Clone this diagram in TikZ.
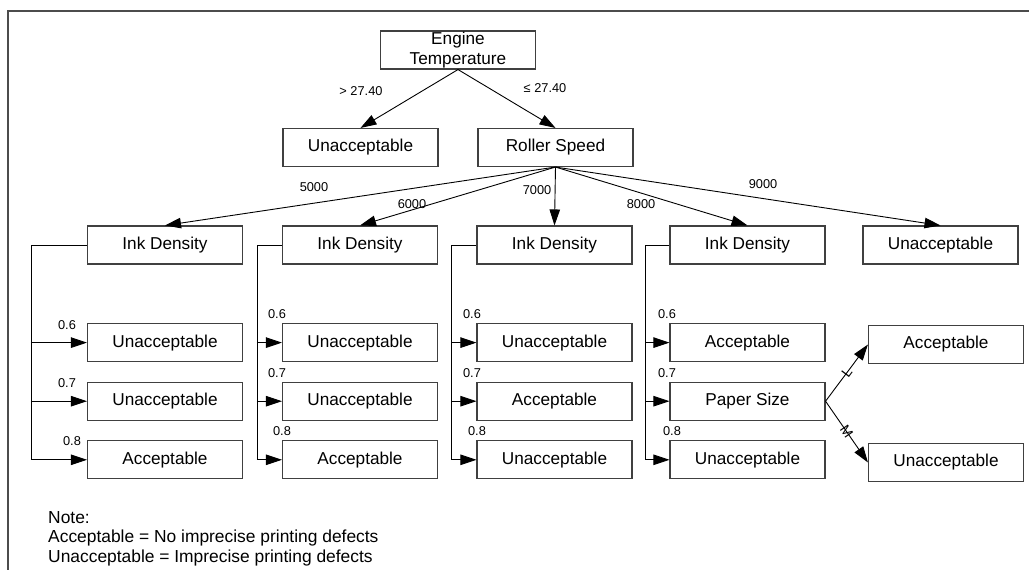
\documentclass[tikz,border=0pt]{standalone}
\usepackage{fontspec}
\setmainfont{Liberation Sans}
\usetikzlibrary{arrows.meta, positioning}

\begin{document}
\begin{tikzpicture}[
        x=1pt, y=-1pt,
        node distance=19.5pt,
        box/.style={
            rectangle,
            draw=black!75,
            line width=1.1pt,
            minimum width=155pt,
            minimum height=38pt,
            inner sep=1pt,
            align=center,
            font=\fontsize{17.2}{19.5}\selectfont
        },
        lbl/.style={inner sep=0pt, font=\fontsize{12.8}{14}\selectfont},
        arr/.style={-{Triangle[length=16pt, width=10.5pt]}, line width=0.9pt},
        trunk/.style={line width=0.9pt}
    ]
        \useasboundingbox (0,0) rectangle (1029,570);
        \draw[draw=black!70, line width=1.2pt] (1029,11) -- (8,11) -- (8,570);

        \node[box] (engine) at (458,50) {Engine\\Temperature};
        \node[box] (hot) at (360.5,147.5) {Unacceptable};
        \node[box] (roller) at (555.5,147.5) {Roller Speed};

        \node[box] (ink5) at (165,245) {Ink Density};
        \node[box] (ink6) at (360,245) {Ink Density};
        \node[box] (ink7) at (554.5,245) {Ink Density};
        \node[box] (ink8) at (747.5,245) {Ink Density};
        \node[box] (fast) at (940.5,245) {Unacceptable};

        \node[box, below=58.5pt of ink5] (ink5a) {Unacceptable};
        \node[box, below=of ink5a] (ink5b) {Unacceptable};
        \node[box, below=of ink5b] (ink5c) {Acceptable};
        \node[box, below=58.5pt of ink6] (ink6a) {Unacceptable};
        \node[box, below=of ink6a] (ink6b) {Unacceptable};
        \node[box, below=of ink6b] (ink6c) {Acceptable};
        \node[box, below=58.5pt of ink7] (ink7a) {Unacceptable};
        \node[box, below=of ink7a] (ink7b) {Acceptable};
        \node[box, below=of ink7b] (ink7c) {Unacceptable};
        \node[box, below=58.5pt of ink8] (ink8a) {Acceptable};
        \node[box, below=of ink8a] (paper) {Paper Size};
        \node[box, below=of paper] (ink8c) {Unacceptable};

        \node[box] (sizeL) at (946,344.5) {Acceptable};
        \node[box] (sizeM) at (946,462.5) {Unacceptable};

        % branch values
        \node[lbl] (gt) at (361,91) {> 27.40};
        \node[lbl] (le) at (545,88) {≤ 27.40};
        \node[lbl] (v5) at (314,187) {5000};
        \node[lbl] (v6) at (412,204) {6000};
        \node[lbl] (v7) at (537,190) {7000};
        \node[lbl] (v8) at (641,204) {8000};
        \node[lbl] (v9) at (763,184) {9000};
        \node[lbl] (d5a) at (67,325) {0.6};
        \node[lbl] (d5b) at (67,383) {0.7};
        \node[lbl] (d5c) at (72,441) {0.8};
        \node[lbl] (d6a) at (277,314) {0.6};
        \node[lbl] (d6b) at (277,373) {0.7};
        \node[lbl] (d6c) at (282,431) {0.8};
        \node[lbl] (d7a) at (472,314) {0.6};
        \node[lbl] (d7b) at (472,373) {0.7};
        \node[lbl] (d7c) at (477,431) {0.8};
        \node[lbl] (d8a) at (667,314) {0.6};
        \node[lbl] (d8b) at (667,373) {0.7};
        \node[lbl] (d8c) at (672,431) {0.8};

        \node[align=left, anchor=north west, inner sep=0pt, font=\fontsize{17.4}{19.3}\selectfont] (note) at (48,511.5)
            {Note:\\Acceptable = No imprecise printing defects\\Unacceptable = Imprecise printing defects};

        \draw[arr] (engine.south) -- (hot.north);
        \draw[arr] (engine.south) -- (roller.north);
        \draw[arr] (roller.south) -- (ink5.north);
        \draw[arr] (roller.south) -- (ink6.north);
        \draw[arr] (roller.south) -- (ink7.north);
        \draw[arr] (roller.south) -- (ink8.north);
        \draw[arr] (roller.south) -- (fast.north);

        \coordinate[left=56pt of ink5.west] (t5);
        \coordinate[left=25pt of ink6.west] (t6);
        \coordinate[left=25pt of ink7.west] (t7);
        \coordinate[left=24pt of ink8.west] (t8);

        \draw[trunk] (ink5.west) -- (t5) -- (t5 |- ink5c.west);
        \draw[arr] (t5 |- ink5a.west) -- (ink5a.west);
        \draw[arr] (t5 |- ink5b.west) -- (ink5b.west);
        \draw[arr] (t5 |- ink5c.west) -- (ink5c.west);
        \draw[trunk] (ink6.west) -- (t6) -- (t6 |- ink6c.west);
        \draw[arr] (t6 |- ink6a.west) -- (ink6a.west);
        \draw[arr] (t6 |- ink6b.west) -- (ink6b.west);
        \draw[arr] (t6 |- ink6c.west) -- (ink6c.west);
        \draw[trunk] (ink7.west) -- (t7) -- (t7 |- ink7c.west);
        \draw[arr] (t7 |- ink7a.west) -- (ink7a.west);
        \draw[arr] (t7 |- ink7b.west) -- (ink7b.west);
        \draw[arr] (t7 |- ink7c.west) -- (ink7c.west);
        \draw[trunk] (ink8.west) -- (t8) -- (t8 |- ink8c.west);
        \draw[arr] (t8 |- ink8a.west) -- (ink8a.west);
        \draw[arr] (t8 |- paper.west) -- (paper.west);
        \draw[arr] (t8 |- ink8c.west) -- (ink8c.west);

        \draw[arr] (paper.east) -- node[lbl, sloped, font=\fontsize{14}{15}\selectfont] (sL) {L} (sizeL.west);
        \draw[arr] (paper.east) -- node[lbl, sloped, font=\fontsize{14}{15}\selectfont] (sM) {M} (sizeM.west);
    \end{tikzpicture}
\end{document}
